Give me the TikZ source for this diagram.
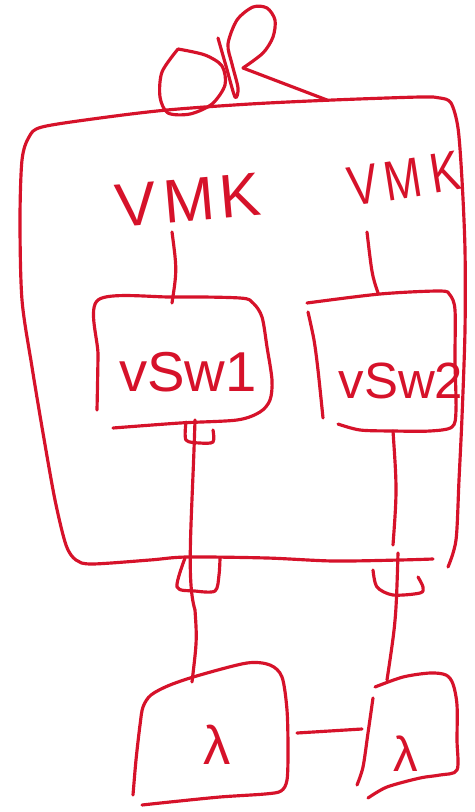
\documentclass[tikz,border=0pt]{standalone}
\usepackage{fontspec}
\setmainfont{Liberation Sans}
\definecolor{ink}{RGB}{214,18,42}
\begin{document}
\begin{tikzpicture}[x=0.02cm,y=-0.02cm,line cap=round,line join=round,
  pen/.style={draw=ink,line width=1.8pt},
  hw/.style={text=ink,inner sep=0pt},
  sm/.style={smooth,tension=0.5}]
\useasboundingbox (0,0) rectangle (474,812);
\fill[white] (0,0) rectangle (474,812);

% knot on top
\draw[pen] plot[sm] coordinates {(178,49) (205,55) (222,66) (225,85) (212,104) (190,114) (168,113) (160,97) (162,72) (178,49)};
\draw[pen] plot[sm] coordinates {(218,38) (226,66) (235,97) (238,88) (232,64) (228,44) (237,20) (253,7) (267,8) (275,20) (273,37) (263,53) (243,68)};
\draw[pen] (243,68) -- (327,100);

% big box
\draw[pen] plot[sm] coordinates {(448,567) (456,540) (459,480) (462,417) (465,330) (465,250) (462,180) (458,128) (451,103) (440,98) (420,97) (333,100) (250,104) (167,110) (100,118) (42,127) (29,137) (22,160) (20,220) (22,300) (32,367) (43,433) (55,500) (66,545) (76,560) (92,564) (150,560) (187,557) (267,558) (333,561) (400,560) (433,559)};

% labels VMK
\node[hw,font=\fontsize{35}{35}\selectfont,rotate=5] (vmk1) at (188,200) {V\kern4pt M\kern3pt K};
\node[hw,font=\fontsize{32}{32}\selectfont,rotate=9,xscale=0.8] (vmk2) at (404,179) {V\kern5pt M\kern6pt K};

% vSw1 box
\draw[pen] plot[sm] coordinates {(97,410) (98,355) (98,300) (172,297) (240,298) (253,303) (262,317) (267,347) (272,380) (270,400) (260,412) (237,420) (180,423) (113,428)};
\node[hw,font=\fontsize{32}{32}\selectfont] (vsw1) at (188,372) {vSw1};
% vSw2 box
\draw[pen] plot[sm] coordinates {(307,303) (380,294) (440,291) (450,295) (455,310) (455,360) (456,410) (452,427) (430,431) (393,431) (360,430) (338,424)};
\draw[pen] plot[sm] coordinates {(308,312) (314,340) (318,370) (323,418)};
\node[hw,font=\fontsize{29}{29}\selectfont] (vsw2) at (401,381) {vSw2};

% port marks
\draw[pen] plot[sm] coordinates {(186,422) (186,440) (200,443) (213,442) (213,430)};
\draw[pen] plot[sm] coordinates {(185,558) (177,587) (195,591) (215,591) (219,575) (220,558)};
\draw[pen] plot[sm] coordinates {(373,570) (377,587) (393,595) (420,593) (423,587) (418,577)};

% bottom boxes
\draw[pen] plot[sm] coordinates {(133,795) (136,760) (140,725) (143,707) (151,695) (170,685) (200,675) (247,663) (270,665) (282,677) (287,710) (288,750) (287,780) (281,791) (265,794) (220,797) (170,802) (142,805)};
\node[hw,font=\fontsize{31}{31}\selectfont] (sw1) at (217,745) {λ};
\draw[pen] plot[sm] coordinates {(375,687) (403,677) (430,673) (446,675) (453,684) (457,705) (457,740) (457,770) (440,775) (420,778) (387,787) (368,798)};
\draw[pen] plot[sm] coordinates {(373,698) (368,733) (363,767) (357,785)};
\node[hw,font=\fontsize{28}{28}\selectfont] (sw2) at (406,754) {λ};

% connector end points
\coordinate (v1top) at (172,303);
\coordinate (v2top) at (378,293);
\coordinate (v1bot) at (195,420);
\coordinate (b1top) at (192,682);
\coordinate (v2bot) at (393,431);
\coordinate (p2in) at (393,545);
\coordinate (p2out) at (398,553);
\coordinate (b2top) at (387,680);
\coordinate (b1r) at (297,733);
\coordinate (b2l) at (362,729);

% connectors
\draw[pen] (172,232) .. controls (177,270) .. (v1top);
\draw[pen] (367,232) .. controls (372,275) .. (v2top);
\draw[pen] (v1bot) .. controls (192,520) and (186,580) .. (195,610) .. controls (197,640) .. (b1top);
\draw[pen] (v2bot) .. controls (397,490) .. (p2in);
\draw[pen] (p2out) .. controls (396,620) .. (b2top);
\draw[pen] (b1r) -- (b2l);
\end{tikzpicture}
\end{document}
